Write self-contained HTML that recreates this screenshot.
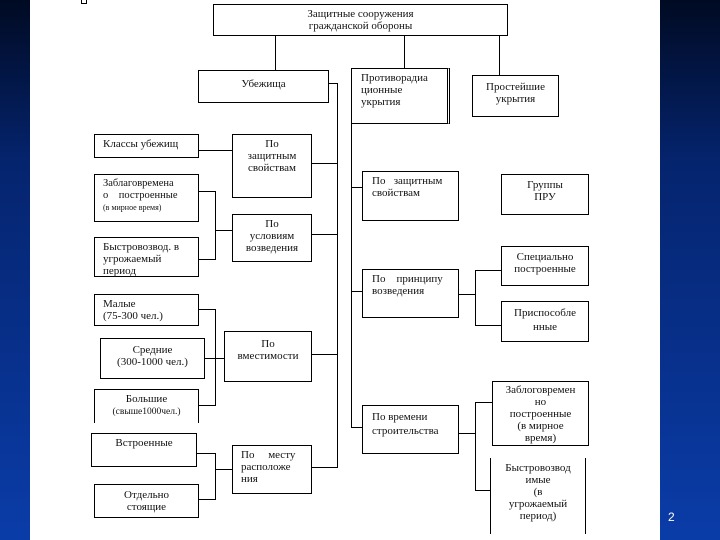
<!DOCTYPE html>
<html><head><meta charset="utf-8"><style>
*{margin:0;padding:0;box-sizing:border-box}
body{width:720px;height:540px;position:relative;overflow:hidden;background:linear-gradient(180deg,#000a22 0%,#05246e 30%,#0a3ca8 100%);font-family:"Liberation Serif","Noto Serif CJK SC",serif;}
#w{position:absolute;left:30px;top:0;width:630px;height:540px;background:#fff}
.b{position:absolute;border:1px solid #000;font-size:11px;line-height:12px;color:#111;text-align:center;padding-top:3px;background:#fff}
.l{position:absolute;background:#000}
.h{height:1px}.v{width:1px}
</style></head><body>
<div id="w"></div>
<div style="position:absolute;left:81px;top:0;width:6px;height:4px;border:1px solid #000;border-top:none"></div>

<div class="b" style="left:213px;top:4px;width:295px;height:32px;padding-top:3px">Защитные сооружения<br>гражданской обороны</div>
<div class="l v" style="left:275px;top:35px;height:35px"></div>
<div class="l v" style="left:404px;top:35px;height:33px"></div>
<div class="l v" style="left:499px;top:35px;height:41px"></div>

<div class="b" style="left:198px;top:70px;width:131px;height:33px;padding-top:7px">Убежища</div>
<div class="b" style="left:351px;top:68px;width:99px;height:56px;text-align:left;padding-left:9px;border-right:3px double #000">Противорадиа<br>ционные<br>укрытия</div>
<div class="b" style="left:472px;top:75px;width:87px;height:42px;padding-top:5px">Простейшие<br>укрытия</div>

<!-- left bus -->
<div class="l h" style="left:328px;top:83px;width:9px"></div>
<div class="l v" style="left:337px;top:83px;height:385px"></div>

<div class="b" style="left:94px;top:134px;width:105px;height:24px;text-align:left;padding-left:8px">Классы убежищ</div>
<div class="l h" style="left:198px;top:150px;width:34px"></div>
<div class="b" style="left:232px;top:134px;width:80px;height:64px">По<br>защитным<br>свойствам</div>
<div class="l h" style="left:311px;top:163px;width:26px"></div>

<div class="b" style="left:94px;top:174px;width:105px;height:48px;text-align:left;padding-left:8px;font-size:10.5px">Заблаговремена<br>о&nbsp;&nbsp;&nbsp; построенные<br><span style="font-size:8px">(в мирное время)</span></div>
<div class="b" style="left:94px;top:237px;width:105px;height:40px;text-align:left;padding-left:8px">Быстровозвод. в<br>угрожаемый<br>период</div>
<div class="l h" style="left:198px;top:191px;width:17px"></div>
<div class="l h" style="left:198px;top:259px;width:17px"></div>
<div class="l v" style="left:215px;top:191px;height:69px"></div>
<div class="l h" style="left:215px;top:230px;width:17px"></div>
<div class="b" style="left:232px;top:214px;width:80px;height:48px">По<br>условиям<br>возведения</div>
<div class="l h" style="left:311px;top:234px;width:26px"></div>

<div class="b" style="left:94px;top:294px;width:105px;height:32px;text-align:left;padding-left:8px">Малые<br>(75-300 чел.)</div>
<div class="b" style="left:100px;top:338px;width:105px;height:41px;padding-top:5px">Средние<br>(300-1000 чел.)</div>
<div class="b" style="left:94px;top:389px;width:105px;height:34px;border-bottom:none">Большие<br><span style="font-size:9.5px">(свыше1000чел.)</span></div>
<div class="l h" style="left:198px;top:309px;width:17px"></div>
<div class="l h" style="left:198px;top:405px;width:17px"></div>
<div class="l v" style="left:215px;top:309px;height:97px"></div>
<div class="l h" style="left:204px;top:358px;width:20px"></div>
<div class="b" style="left:224px;top:331px;width:88px;height:51px;padding-top:6px">По<br>вместимости</div>
<div class="l h" style="left:311px;top:354px;width:26px"></div>

<div class="b" style="left:91px;top:433px;width:106px;height:34px">Встроенные</div>
<div class="b" style="left:94px;top:484px;width:105px;height:34px;padding-top:4px">Отдельно<br>стоящие</div>
<div class="l h" style="left:196px;top:453px;width:19px"></div>
<div class="l h" style="left:198px;top:499px;width:17px"></div>
<div class="l v" style="left:215px;top:453px;height:47px"></div>
<div class="l h" style="left:215px;top:469px;width:17px"></div>
<div class="b" style="left:232px;top:445px;width:80px;height:49px;text-align:left;padding-left:8px">По&nbsp;&nbsp;&nbsp;&nbsp; месту<br>расположе<br>ния</div>
<div class="l h" style="left:311px;top:467px;width:26px"></div>

<!-- right bus -->
<div class="l v" style="left:351px;top:123px;height:305px"></div>
<div class="b" style="left:362px;top:171px;width:97px;height:50px;text-align:left;padding-left:9px">По&nbsp;&nbsp; защитным<br>свойствам</div>
<div class="l h" style="left:351px;top:187px;width:11px"></div>
<div class="b" style="left:362px;top:269px;width:97px;height:49px;text-align:left;padding-left:9px">По&nbsp;&nbsp;&nbsp; принципу<br>возведения</div>
<div class="l h" style="left:351px;top:291px;width:11px"></div>
<div class="b" style="left:362px;top:405px;width:97px;height:49px;text-align:left;padding-left:9px;padding-top:4px;line-height:14px">По времени<br>строительства</div>
<div class="l h" style="left:351px;top:427px;width:11px"></div>

<div class="b" style="left:501px;top:174px;width:88px;height:41px;padding-top:4px">Группы<br>ПРУ</div>
<div class="b" style="left:501px;top:246px;width:88px;height:40px;padding-top:4px">Специально<br>построенные</div>
<div class="b" style="left:501px;top:301px;width:88px;height:41px;padding-top:4px;line-height:14px">Приспособле<br>нные</div>
<div class="l h" style="left:458px;top:294px;width:17px"></div>
<div class="l v" style="left:475px;top:270px;height:56px"></div>
<div class="l h" style="left:475px;top:270px;width:26px"></div>
<div class="l h" style="left:475px;top:325px;width:26px"></div>

<div class="b" style="left:492px;top:381px;width:97px;height:65px;padding-top:2px">Заблоговремен<br>но<br>построенные<br>(в мирное<br>время)</div>
<div class="b" style="left:490px;top:458px;width:96px;height:76px;border-top:none;border-bottom:none;padding-top:4px">Быстровозвод<br>имые<br>(в<br>угрожаемый<br>период)</div>
<div class="l h" style="left:458px;top:433px;width:17px"></div>
<div class="l v" style="left:475px;top:402px;height:89px"></div>
<div class="l h" style="left:475px;top:402px;width:17px"></div>
<div class="l h" style="left:475px;top:490px;width:15px"></div>

<div style="position:absolute;left:668px;top:510px;color:#fff;font-family:'Liberation Sans',sans-serif;font-size:12px">2</div>
</body></html>
